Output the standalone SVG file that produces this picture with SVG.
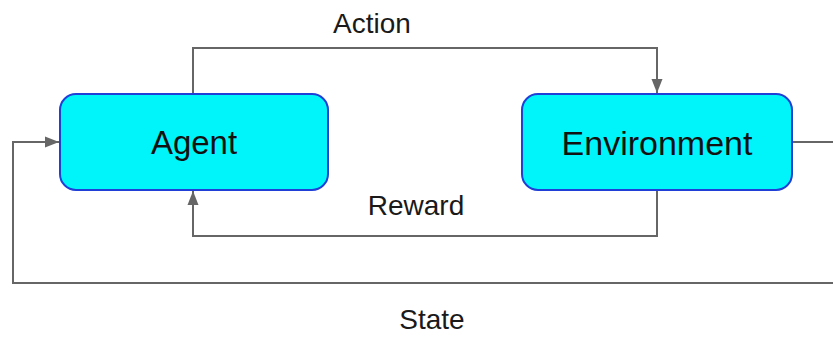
<svg xmlns="http://www.w3.org/2000/svg" width="833" height="337" viewBox="0 0 833 337">
  <style>
    .node rect { fill: #00f5fa; stroke: #1f3fd6; stroke-width: 2; }
    .node text { font-family: "Liberation Sans", Arial, sans-serif; font-size: 33px; fill: #111; text-anchor: middle; }
    #environment text { font-size: 34px; }
    .edge { fill: none; stroke: #666; stroke-width: 2; }
    .label { font-family: "Liberation Sans", Arial, sans-serif; font-size: 28px; fill: #1a1a1a; text-anchor: middle; }
  </style>
  <defs>
    <marker id="arrow" viewBox="0 0 14 12" refX="14" refY="6" markerWidth="14" markerHeight="12" markerUnits="userSpaceOnUse" orient="auto">
      <path d="M0,0.5 L14,6 L0,11.5 Z" fill="#666"/>
    </marker>
  </defs>
  <rect width="833" height="337" fill="#fff"/>

  <g id="connectors">
    <!-- Action: Agent -> Environment -->
    <path class="edge" d="M193,94 V48 H657 V93" marker-end="url(#arrow)"/>
    <!-- Reward: Environment -> Agent -->
    <path class="edge" d="M657,190 V236 H193 V191" marker-end="url(#arrow)"/>
    <!-- State: Environment -> Agent (loops round the outside) -->
    <path class="edge" d="M792,142 H840 V283 H13 V142 H59" marker-end="url(#arrow)"/>
  </g>

  <g id="agent" class="node">
    <rect x="60" y="94" width="268" height="96" rx="16" ry="16"/>
    <text x="194" y="154">Agent</text>
  </g>

  <g id="environment" class="node">
    <rect x="522" y="94" width="270" height="96" rx="16" ry="16"/>
    <text x="657" y="155">Environment</text>
  </g>

  <g id="labels">
    <text class="label" x="372" y="33">Action</text>
    <text class="label" x="416" y="215">Reward</text>
    <text class="label" x="432" y="329">State</text>
  </g>
</svg>
